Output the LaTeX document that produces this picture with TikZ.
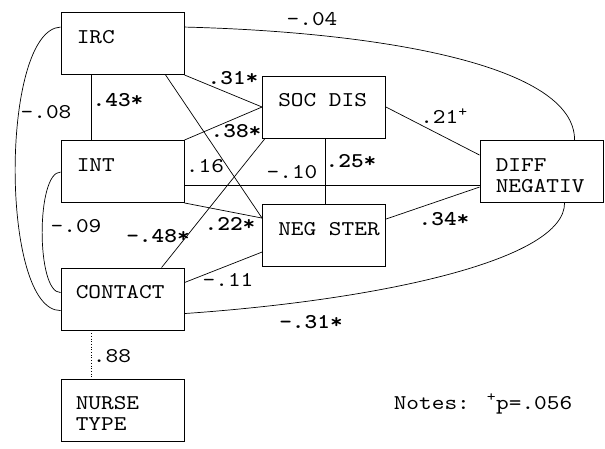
\documentclass[tikz,border=0pt]{standalone}
\usepackage{fontspec}
\newfontfamily\cour[Extension=.otf, UprightFont=lmmono10-regular, BoldFont=lmmonolt10-bold, FakeStretch=1.15]{lmmono10-regular}
\usetikzlibrary{calc}
\begin{document}
\begin{tikzpicture}[x=1pt,y=-1pt,
  box/.style={draw, line width=0.9pt, minimum width=123pt, minimum height=62pt, inner sep=0pt},
  boxtext/.style={anchor=base west, inner sep=0pt, font=\cour\fontsize{21}{21}\selectfont, align=left},
  lab/.style={inner sep=0pt, font=\cour\fontsize{21}{21}\selectfont},
  blab/.style={inner sep=0pt, font=\cour\bfseries\fontsize{21}{21}\selectfont},
  conn/.style={line width=0.7pt}]
\useasboundingbox (0,0) rectangle (605,448);
% boxes
\node[box] (irc) at (122.5,43.5) {};
\node[box] (int) at (122.5,171.5) {};
\node[box] (con) at (122.5,299) {};
\node[box] (nur) at (122.5,410) {};
\node[box] (soc) at (324,107) {};
\node[box] (neg) at (324,235.5) {};
\node[box] (dif) at (541.5,171.5) {};
% box texts
\node[boxtext] (ircT) at ($(irc.north west)+(16,31)$) {IRC};
\node[boxtext] (intT) at ($(int.north west)+(16,31)$) {INT};
\node[boxtext] (conT) at ($(con.north west)+(15,31)$) {CONTACT};
\node[boxtext] (nurT) at ($(nur.north west)+(15,52)$) {NURSE\\TYPE};
\node[boxtext] (socT) at ($(soc.north west)+(16,31)$) {SOC DIS};
\node[boxtext] (negT) at ($(neg.north west)+(16,31)$) {NEG STER};
\node[boxtext] (difT) at ($(dif.north west)+(16,52)$) {DIFF\\NEGATIV};
% straight connectors
\draw[conn] ($(irc.south west)+(31,0)$) -- ($(int.north west)+(31,0)$);
\draw[conn] (irc.south east) -- (soc.west);
\draw[conn] (int.north east) -- (soc.west);
\draw[conn] ($(irc.south west)+(105,0)$) -- ($(neg.north west)+(0,14)$);
\draw[conn] (int.south east) -- ($(neg.north west)+(0,14)$);
\draw[conn] ($(con.north west)+(101,0)$) -- ($(soc.south west)+(3,0)$);
\draw[conn] ($(con.north east)+(0,15)$) -- ($(neg.north west)+(0,48)$);
\draw[conn] (soc.east) -- ($(dif.north west)+(0,15)$);
\draw[conn] ($(soc.south west)+(63,0)$) -- ($(neg.north west)+(63,0)$);
\draw[conn] ($(int.north east)+(0,45)$) -- ($(dif.north west)+(0,45)$);
\draw[conn] ($(neg.north east)+(0,15)$) -- ($(dif.north west)+(0,47)$);
\draw[conn, dotted] ($(con.south west)+(31,0)$) -- ($(nur.north west)+(31,0)$);
% curved connectors
\draw[conn] ($(irc.north east)+(0,15)$) .. controls (380,32) and (575,65) .. ($(dif.north west)+(95,0)$);
\draw[conn] ($(con.north east)+(0,46)$) .. controls (380,300) and (565,260) .. ($(dif.south west)+(85,0)$);
\draw[conn] ($(irc.north west)+(0,15)$) .. controls (0,30) and (0,311) .. ($(con.north west)+(0,43)$);
\draw[conn] ($(int.north west)+(0,32)$) .. controls (36,172) and (36,293) .. ($(con.north west)+(0,25)$);
% labels
\node[lab] (l04) at (312,19) {-.04};
\node[blab] (l31a) at (233,78) {.31*};
\node[blab] (l43) at (118,100) {.43*};
\node[lab] (l08) at (46,112) {-.08};
\node[blab] (l38) at (236,131) {.38*};
\node[lab] (l16) at (205,166) {.16};
\node[lab] (l10) at (292,172) {-.10};
\node[blab] (l25) at (351,161) {.25*};
\node[lab] (l21) at (444,116) {.21\textsuperscript{+}};
\node[blab] (l34) at (444,219) {.34*};
\node[lab] (l09) at (76,226) {-.09};
\node[blab] (l48) at (158,236) {-.48*};
\node[blab] (l22) at (230,224) {.22*};
\node[lab] (l11) at (228,280) {-.11};
\node[lab] (l88) at (112,356) {.88};
\node[blab] (l31b) at (311,322) {-.31*};
\node[lab] (notes) at (483,404) {Notes: \textsuperscript{+}p=.056};
\end{tikzpicture}
\end{document}
